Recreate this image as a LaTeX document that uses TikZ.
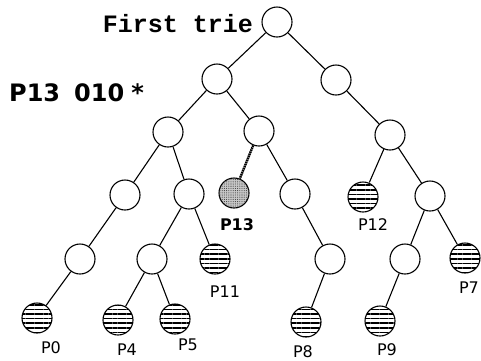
\documentclass[tikz,border=0pt]{standalone}
\usepackage{fontspec}
\newfontfamily\labfont{DejaVu Sans}
\newfontfamily\triefont{Liberation Mono}
\usetikzlibrary{patterns.meta}
\tikzset{vert/.style={circle, draw, line width=1.1pt, minimum size=30pt, inner sep=0pt}}
\tikzset{leaf/.style={vert, pattern={Lines[angle=0,distance=4.6pt,line width=1.7pt]}}}
\tikzset{hit/.style={vert, fill=black!22,
   postaction={pattern={Dots[distance=2.2pt,radius=0.55pt]}, pattern color=black!75}}}
\tikzset{lab/.style={font=\labfont\fontsize{16}{16}\selectfont, inner sep=0pt, anchor=base}}
\tikzset{link/.style={line width=1.1pt}}
\tikzset{hitlink/.style={line width=2.4pt, dash pattern=on 1.6pt off 0.6pt}}

\begin{document}
\begin{tikzpicture}[x=1pt, y=-1pt]

    \useasboundingbox (0,0) rectangle (481,360);

    % inner vertices, named by their bit string
    \node[vert] (t)     at (277,22)  {};
    \node[vert] (t0)    at (217,79)  {};
    \node[vert] (t1)    at (336,80)  {};
    \node[vert] (t00)   at (168,132) {};
    \node[vert] (t01)   at (259,131) {};
    \node[vert] (t11)   at (390,135) {};
    \node[vert] (t000)  at (125,195) {};
    \node[vert] (t001)  at (189,194) {};
    \node[vert] (t011)  at (295,194) {};
    \node[vert] (t111)  at (430,196) {};
    \node[vert] (t0000) at (80,259)  {};
    \node[vert] (t0010) at (152,259) {};
    \node[vert] (t0111) at (330,259) {};
    \node[vert] (t1110) at (405,259) {};

    % stored prefixes
    \node[hit]  (t010)   at (234,193) {};
    \node[leaf] (t110)   at (363,197) {};
    \node[leaf] (t0011)  at (215,259) {};
    \node[leaf] (t1111)  at (465,258) {};
    \node[leaf] (t00000) at (37,318)  {};
    \node[leaf] (t00100) at (118,320) {};
    \node[leaf] (t00101) at (175,319) {};
    \node[leaf] (t01110) at (306,322) {};
    \node[leaf] (t11100) at (380,321) {};

    \draw[link] (t) -- (t0);
    \draw[link] (t) -- (t1);
    \draw[link] (t0) -- (t00);
    \draw[link] (t0) -- (t01);
    \draw[link] (t1) -- (t11);
    \draw[link] (t00) -- (t000);
    \draw[link] (t00) -- (t001);
    \draw[hitlink] (t01) -- (t010);
    \draw[link] (t01) -- (t011);
    \draw[link] (t11) -- (t110);
    \draw[link] (t11) -- (t111);
    \draw[link] (t000) -- (t0000);
    \draw[link] (t001) -- (t0010);
    \draw[link] (t001) -- (t0011);
    \draw[link] (t011) -- (t0111);
    \draw[link] (t111) -- (t1110);
    \draw[link] (t111) -- (t1111);
    \draw[link] (t0000) -- (t00000);
    \draw[link] (t0010) -- (t00100);
    \draw[link] (t0010) -- (t00101);
    \draw[link] (t0111) -- (t01110);
    \draw[link] (t1110) -- (t11100);

    \node[lab, font=\labfont\bfseries\fontsize{16}{16}\selectfont] (p13) at (237,230) {P13};
    \node[lab] (p12) at (373,230) {P12};
    \node[lab] (p11) at (225,297) {P11};
    \node[lab] (p7)  at (469,293) {P7};
    \node[lab] (p0)  at (51,353)  {P0};
    \node[lab] (p4)  at (127,355) {P4};
    \node[lab] (p5)  at (188,350) {P5};
    \node[lab] (p8)  at (303,357) {P8};
    \node[lab] (p9)  at (387,355) {P9};

    \node[anchor=base east, inner sep=0pt, font=\triefont\bfseries\fontsize{25}{25}\selectfont]
       (title) at (253,32) {First trie};
    \node[anchor=base west, inner sep=0pt, font=\labfont\bfseries\fontsize{24}{24}\selectfont]
       (query) at (9,101) {P13\hspace{14pt}010\hspace{7pt}*};

\end{tikzpicture}
\end{document}
